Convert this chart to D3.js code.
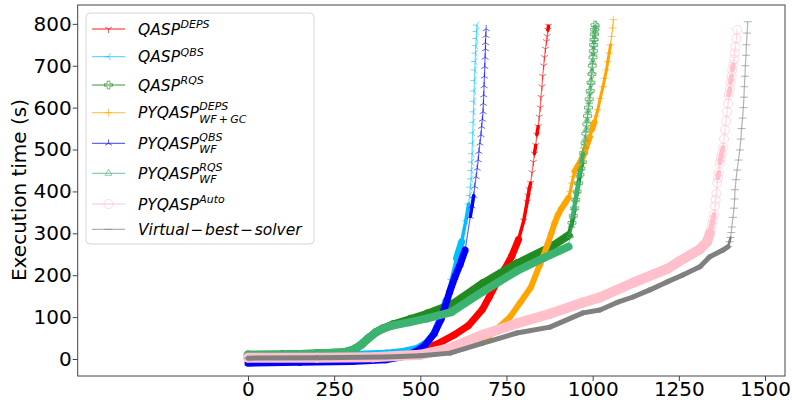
<!DOCTYPE html>
<html lang="en">
<head>
<meta charset="UTF-8" />
<title>Cactus plot</title>
<script src="https://cdn.jsdelivr.net/npm/d3@7"></script>
<style>
  body { margin: 0; background: #fff; }
  text { font-family: "DejaVu Sans", sans-serif; fill: #000; }
  .tick text { font-size: 20px; }
  .legend-text { font-style: oblique; font-size: 15.5px; }
</style>
</head>
<body>
<svg id="chart" width="792" height="400"></svg>
<script>
// [instances solved, execution time (s)]
const qaspDeps = [[0,3],[100,4],[200,5],[300,7],[400,11],[450,15],[500,22],[550,36],[600,58],[640,80],[680,118],[700,148],[720,180],[745,215],[765,245],[785,285],[800,330],[810,375],[813,390],[816,405],[820,420],[824,445],[828,470],[831,490],[835,510],[838,535],[842,555],[845,578],[848,600],[850,625],[853,650],[855,675],[858,700],[860,720],[863,740],[866,758],[868,770],[870,785],[872,795]];
const qaspQbs = [[0,7],[100,8],[200,9],[300,11],[400,14],[450,18],[490,25],[520,40],[540,62],[560,100],[575,140],[590,190],[605,240],[620,280],[632,330],[640,370],[643,390],[645,410],[647,430],[648,450],[649,470],[650,490],[651,515],[652,540],[653,565],[654,590],[655,615],[656,640],[657,665],[658,690],[659,710],[660,730],[661,748],[662,765],[663,782],[664,797]];
const qaspRqs = [[0,10],[100,11],[200,13],[280,16],[310,24],[330,35],[350,50],[370,63],[390,72],[420,82],[470,95],[520,108],[595,132],[680,180],[780,228],[880,268],[930,295],[940,325],[944,342],[948,360],[951,380],[955,400],[959,420],[963,440],[966,455],[970,470],[974,492],[978,515],[980,538],[983,560],[985,580],[988,600],[990,620],[993,640],[995,660],[998,680],[999,700],[1001,720],[1002,735],[1003,750],[1004,762],[1005,775],[1006,786],[1007,797]];
const pyqaspDeps = [[0,1],[200,2],[400,3],[500,8],[600,20],[650,35],[700,55],[731,78],[760,100],[790,135],[820,170],[847,225],[870,275],[880,300],[890,325],[900,345],[910,360],[920,372],[930,385],[935,400],[940,420],[944,435],[948,448],[958,462],[970,480],[981,505],[992,530],[998,548],[1005,565],[1010,580],[1015,595],[1022,622],[1030,650],[1035,670],[1040,690],[1044,710],[1048,730],[1052,750],[1055,770],[1058,790],[1060,810]];
const pyqaspQbs = [[0,-10],[150,-8],[300,-6],[400,-2],[450,6],[480,15],[510,30],[540,60],[560,95],[585,160],[600,195],[615,225],[630,260],[645,340],[650,365],[655,390],[658,412],[662,435],[665,455],[668,475],[670,495],[673,515],[676,535],[678,555],[680,572],[682,590],[683,610],[684,630],[685,652],[686,675],[687,698],[688,720],[689,740],[689,755],[690,772],[691,788]];
const pyqaspRqs = [[0,10],[100,11],[200,13],[280,16],[310,24],[330,35],[350,50],[370,63],[390,72],[420,80],[470,88],[520,97],[590,112],[680,160],[780,210],[860,242],[930,268],[935,295],[938,318],[942,340],[946,360],[950,380],[954,400],[958,420],[961,438],[965,455],[968,472],[972,490],[975,508],[978,525],[981,548],[984,570],[987,592],[990,615],[992,638],[995,660],[997,685],[1000,710],[1002,730],[1004,750],[1006,765],[1008,780],[1009,790],[1010,797]];
const pyqaspAuto = [[0,3],[200,3],[363,4],[499,10],[586,26],[682,58],[780,85],[876,108],[972,135],[1021,147],[1117,182],[1216,215],[1253,234],[1311,262],[1332,280],[1340,300],[1343,310],[1346,320],[1349,332],[1352,345],[1355,365],[1357,380],[1359,395],[1361,420],[1363,432],[1366,445],[1369,468],[1372,480],[1374,490],[1378,505],[1381,525],[1384,547],[1387,568],[1390,590],[1393,610],[1395,630],[1398,645],[1400,660],[1403,675],[1405,690],[1408,703],[1410,715],[1412,730],[1414,745],[1417,765],[1419,786]];
const virtualBest = [[0,2],[200,3],[400,5],[500,8],[586,14],[682,38],[780,62],[876,76],[972,110],[1021,117],[1071,135],[1117,148],[1166,165],[1216,184],[1260,200],[1311,220],[1340,244],[1378,260],[1393,268],[1397,280],[1400,290],[1402,302],[1404,315],[1407,338],[1410,360],[1412,382],[1413,404],[1416,428],[1419,451],[1423,475],[1427,499],[1430,525],[1432,550],[1435,575],[1437,600],[1439,625],[1440,650],[1442,675],[1443,700],[1445,725],[1446,750],[1448,778],[1450,805]];

const xTicks = [0, 250, 500, 750, 1000, 1250, 1500];
const yTicks = [0, 100, 200, 300, 400, 500, 600, 700, 800];

const series = [
  { data: qaspDeps, color: "red", marker: "tri_down", band: 7, base: "QASP", sup: "DEPS" },
  { data: qaspQbs, color: "deepskyblue", marker: "tri_left", band: 7, base: "QASP", sup: "QBS" },
  { data: qaspRqs, color: "forestgreen", marker: "plus_filled", band: 8, base: "QASP", sup: "RQS" },
  { data: pyqaspDeps, color: "orange", marker: "plus", band: 6, base: "PYQASP", sup: "DEPS", sub: "WF\u2009+\u2009GC" },
  { data: pyqaspQbs, color: "blue", marker: "tri_up", band: 7, base: "PYQASP", sup: "QBS", sub: "WF" },
  { data: pyqaspRqs, color: "mediumseagreen", marker: "triangle_up", band: 8, base: "PYQASP", sup: "RQS", sub: "WF" },
  { data: pyqaspAuto, color: "pink", marker: "circle", band: 10, base: "PYQASP", sup: "Auto" },
  { data: virtualBest, color: "gray", marker: "hline", band: 5, base: "Virtual\u200a\u2212\u200abest\u200a\u2212\u200asolver" }
];

const svg = d3.select("#chart");
const mLeft = 77.7, mRight = 785, mTop = 5, mBottom = 376;

const x = d3.scaleLinear().domain([-494, 1558]).range([mLeft, mRight]);
const y = d3.scaleLinear().domain([-40.6, 845]).range([mBottom, mTop]);

function markerPath(type, r) {
  const c = 0.866 * r, h = 0.5 * r;
  switch (type) {
    case "tri_down": return `M0,0L0,${r}M0,0L${-c},${-h}M0,0L${c},${-h}`;
    case "tri_left": return `M0,0L${-r},0M0,0L${h},${-c}M0,0L${h},${c}`;
    case "tri_up": return `M0,0L0,${-r}M0,0L${-c},${h}M0,0L${c},${h}`;
    case "plus": return `M${-r},0L${r},0M0,${-r}L0,${r}`;
    case "plus_filled": {
      const a = r, b = r / 3;
      return `M${-b},${-a}L${b},${-a}L${b},${-b}L${a},${-b}L${a},${b}L${b},${b}L${b},${a}L${-b},${a}L${-b},${b}L${-a},${b}L${-a},${-b}L${-b},${-b}Z`;
    }
    case "triangle_up": return `M0,${-r}L${c},${h}L${-c},${h}Z`;
    case "circle": return `M${r},0A${r},${r} 0 1 1 ${-r},0A${r},${r} 0 1 1 ${r},0Z`;
    case "hline": return `M${-r},0L${r},0`;
  }
}

svg.append("defs").append("clipPath").attr("id", "plot-clip")
  .append("rect").attr("x", mLeft).attr("y", mTop)
  .attr("width", mRight - mLeft).attr("height", mBottom - mTop);

const plot = svg.append("g").attr("clip-path", "url(#plot-clip)");
const line = d3.line().x(d => x(d[0])).y(d => y(d[1]));

series.forEach(s => {
  const g = plot.append("g");
  // dense stretches: the markers overlap into a solid band
  const segs = d3.pairs(s.data).map(([a, b]) => {
    const len = Math.hypot(x(b[0]) - x(a[0]), y(b[1]) - y(a[1]));
    const gap = len / Math.max(1, b[0] - a[0]);
    const w = gap < 1.2 ? s.band : gap < 2.2 ? s.band * 0.5 : 0;
    return { a, b, w };
  });
  g.selectAll("line.band")
    .data(segs.filter(d => d.w > 0))
    .join("line")
    .attr("class", "band")
    .attr("x1", d => x(d.a[0])).attr("y1", d => y(d.a[1]))
    .attr("x2", d => x(d.b[0])).attr("y2", d => y(d.b[1]))
    .attr("stroke", s.color)
    .attr("stroke-width", d => d.w)
    .attr("stroke-linecap", "round");

  g.append("path")
    .datum(s.data)
    .attr("d", line)
    .attr("fill", "none")
    .attr("stroke", s.color)
    .attr("stroke-width", 1.2)
    .attr("opacity", 0.6);

  g.selectAll("path.mk")
    .data(s.data)
    .join("path")
    .attr("class", "mk")
    .attr("transform", d => `translate(${x(d[0])},${y(d[1])})`)
    .attr("d", markerPath(s.marker, s.marker === "circle" ? 4.5 : 4))
    .attr("fill", "none")
    .attr("stroke", s.color)
    .attr("stroke-width", 1)
    .attr("opacity", 0.6);
});

// frame
svg.append("rect")
  .attr("x", mLeft).attr("y", mTop)
  .attr("width", mRight - mLeft).attr("height", mBottom - mTop)
  .attr("fill", "none").attr("stroke", "#444").attr("stroke-width", 1);

const xAxis = svg.append("g")
  .attr("transform", `translate(0,${mBottom})`)
  .call(d3.axisBottom(x).tickValues(xTicks).tickFormat(d3.format("d")).tickSize(5).tickPadding(1));
const yAxis = svg.append("g")
  .attr("transform", `translate(${mLeft},0)`)
  .call(d3.axisLeft(y).tickValues(yTicks).tickFormat(d3.format("d")).tickSize(5).tickPadding(1));
[xAxis, yAxis].forEach(a => {
  a.select(".domain").remove();
  a.selectAll(".tick line").attr("stroke", "#444");
  a.selectAll(".tick text").attr("fill", "#000");
});

svg.append("text")
  .attr("transform", "translate(26,190) rotate(-90)")
  .attr("text-anchor", "middle")
  .style("font-size", "20px")
  .text("Execution time (s)");

// legend
const legendRows = [29, 56.7, 85, 112.7, 143.3, 173.3, 204, 229.3];
const legend = svg.append("g");
legend.append("rect")
  .attr("x", 86).attr("y", 13).attr("width", 228).attr("height", 231)
  .attr("rx", 4)
  .attr("fill", "#fff").attr("fill-opacity", 0.8)
  .attr("stroke", "#d6d6d6");

series.forEach((s, i) => {
  const ly = legendRows[i];
  legend.append("line")
    .attr("x1", 92).attr("x2", 125).attr("y1", ly).attr("y2", ly)
    .attr("stroke", s.color).attr("stroke-width", 1.3).attr("opacity", 0.6);
  legend.append("path")
    .attr("transform", `translate(108.5,${ly})`)
    .attr("d", markerPath(s.marker, s.marker === "circle" ? 4.5 : 4))
    .attr("fill", "none").attr("stroke", s.color).attr("opacity", 0.6);

  const base = ly + 5.7;
  const t = legend.append("text")
    .attr("class", "legend-text")
    .attr("x", 138).attr("y", base)
    .text(s.base);
  const w = t.node().getComputedTextLength();
  if (s.sup) {
    legend.append("text")
      .attr("class", "legend-text")
      .style("font-size", "11px")
      .attr("x", 138 + w + 0.5)
      .attr("y", s.sub ? base - 8.5 : base - 6.7)
      .text(s.sup);
  }
  if (s.sub) {
    legend.append("text")
      .attr("class", "legend-text")
      .style("font-size", "11px")
      .attr("x", 138 + w + 0.5)
      .attr("y", base + 4.2)
      .text(s.sub);
  }
});
</script>
</body>
</html>
